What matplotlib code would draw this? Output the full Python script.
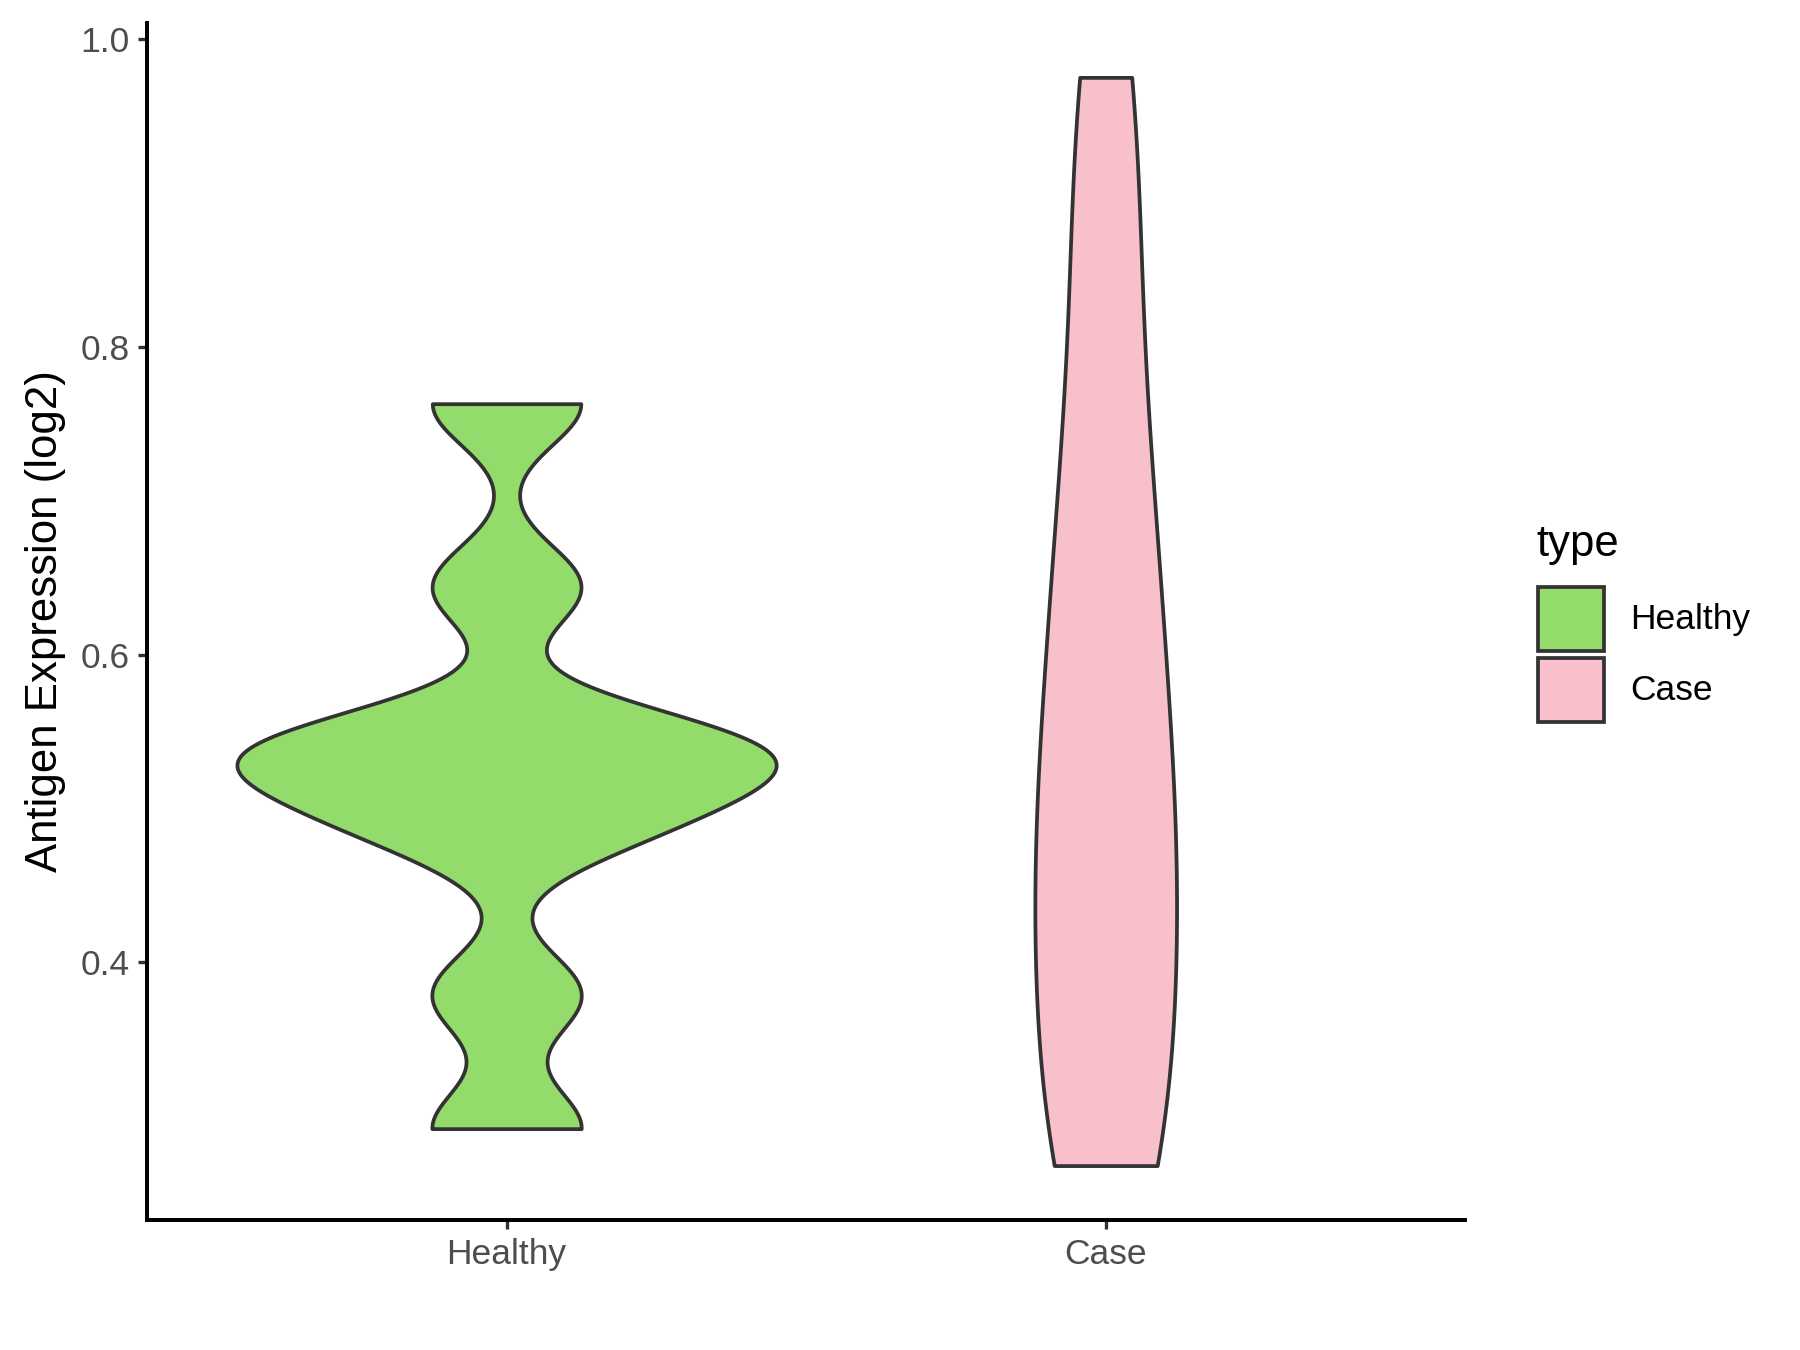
import matplotlib
matplotlib.use("Agg")
import matplotlib.pyplot as plt
from matplotlib.patches import Patch
import numpy as np

plt.rcParams['font.family'] = ['Liberation Sans', 'DejaVu Sans']

groups = ["Healthy", "Case"]
healthy_vals = [0.292, 0.379, 0.482, 0.507, 0.529, 0.539, 0.549, 0.644, 0.763]
case_vals = [0.268, 0.28, 0.36, 0.42, 0.47, 0.52, 0.59, 0.66, 0.74, 0.86, 0.975]
bandwidths = [0.027, 0.10]
fills = ["#93DB6A", "#F7C0CB"]
edge = "#333333"


def kde(vals, bw, n=512):
    # gaussian density on the trimmed data range, like ggplot's violin
    vals = np.asarray(vals)
    y = np.linspace(vals.min(), vals.max(), n)
    d = np.exp(-0.5 * ((y[:, None] - vals[None, :]) / bw) ** 2).sum(axis=1)
    d /= len(vals) * bw * np.sqrt(2 * np.pi)
    return y, d


dens = [kde(v, b) for v, b in zip([healthy_vals, case_vals], bandwidths)]
dmax = max(d.max() for _, d in dens)

fig = plt.figure(figsize=(12, 9), dpi=150)
ax = fig.add_axes([0.0817, 0.0963, 0.7323, 0.8867])

for i, ((y, d), col) in enumerate(zip(dens, fills)):
    w = 0.45 * d / dmax
    ax.fill_betweenx(y, i + 1 - w, i + 1 + w, facecolor=col, edgecolor=edge,
                     linewidth=1.8, joinstyle='round')

allv = np.concatenate([healthy_vals, case_vals])
span = allv.max() - allv.min()
ax.set_ylim(allv.min() - 0.05 * span, allv.max() + 0.05 * span)
ax.set_xlim(0.4, 2.6)

ax.set_xticks([1, 2])
ax.set_xticklabels(groups)
ax.set_yticks([0.4, 0.6, 0.8, 1.0])
ax.set_yticklabels(["0.4", "0.6", "0.8", "1.0"])
ax.tick_params(axis='both', labelsize=17, labelcolor='#4D4D4D', color='#333333',
               length=4.5, width=1.6, pad=4)
for s in ['top', 'right']:
    ax.spines[s].set_visible(False)
for s in ['left', 'bottom']:
    ax.spines[s].set_linewidth(1.9)
    ax.spines[s].set_color('black')

ax.set_ylabel("Antigen Expression (log2)", fontsize=21, labelpad=7)

# legend: keys + labels, title placed separately for ggplot-like spacing
handles = [Patch(facecolor=c, edgecolor=edge, linewidth=1.8) for c in fills]
leg = fig.legend(handles, groups, loc='center left',
                 bbox_to_anchor=(0.8545, 0.5155), frameon=False, fontsize=17,
                 handlelength=1.85, handleheight=2.4,
                 labelspacing=0.2, handletextpad=0.75, borderpad=0,
                 borderaxespad=0)
fig.text(0.8533, 0.588, "type", fontsize=21, ha='left', va='baseline')

fig.savefig("out.png", dpi=150)
